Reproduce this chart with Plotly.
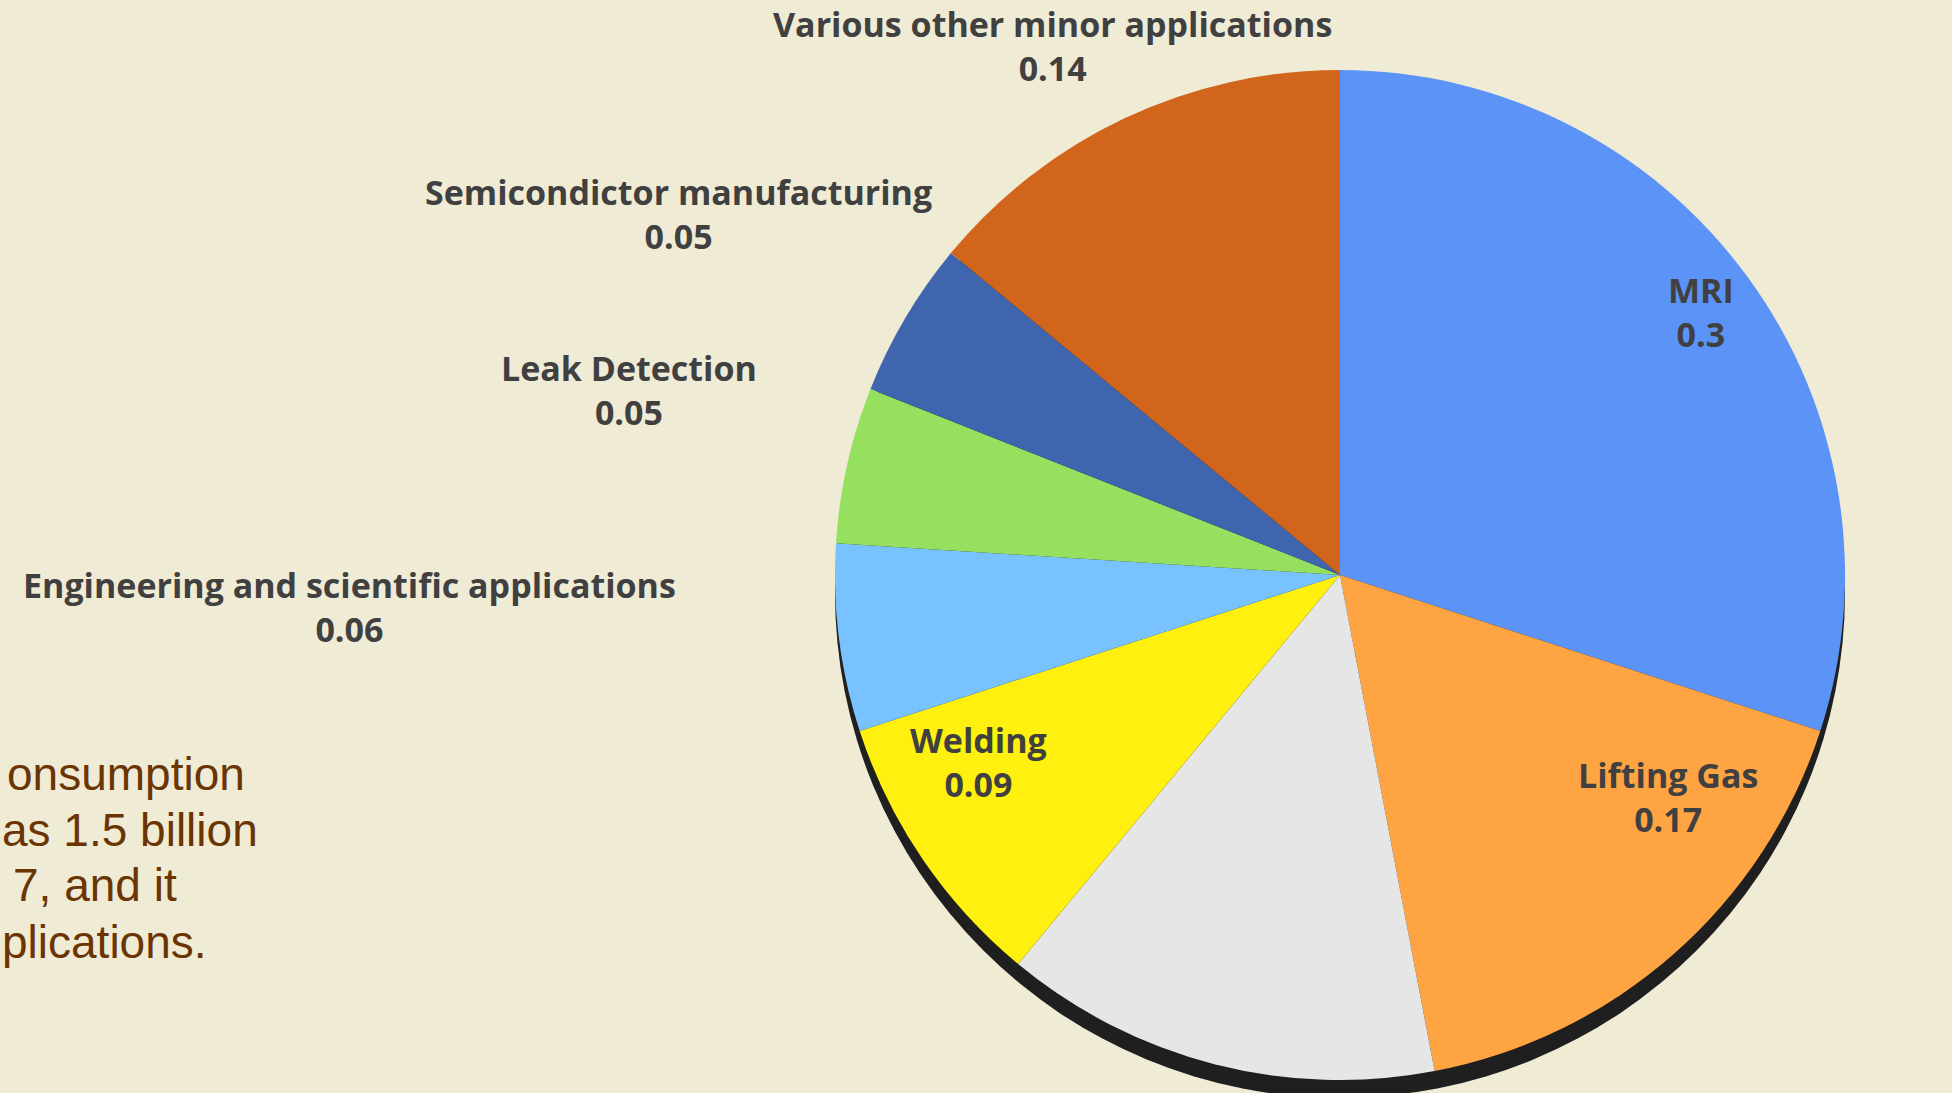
import plotly.graph_objects as go

# ---- data ----
categories = ["MRI", "Lifting Gas", "Cryogenics", "Welding",
              "Engineering and scientific applications", "Leak Detection",
              "Semicondictor manufacturing", "Various other minor applications"]
shares = [0.3, 0.17, 0.14, 0.09, 0.06, 0.05, 0.05, 0.14]
show_label = [True, True, False, True, True, True, True, True]
slice_colors = ["#5b93f7", "#ffa443", "#e6e6e6", "#fff00f",
                "#78c3ff", "#96e060", "#3e65ad", "#d2651c"]
# visible (cropped) part of the side note, as shown in the reference
note_lines = ["onsumption", "as 1.5 billion", "7, and it", "plications."]

BG = "#f0ebd5"
W, H = 1952, 1160          # page is 1093 tall; the pie runs off the bottom edge
cx, cy, r = 1340, 575, 505
shadow_drop = 18
LABEL_FONT = dict(family="Open Sans", size=34, color="#404040", weight="bold")

# label block centres (page pixels) for each slice
label_pos = [(1701, 312), (1668, 797), None, (978, 762),
             (349, 607), (629, 390), (678, 214), (1052, 46)]

def xdom(c, rad):
    return [max(0, (c - rad) / W), min(1, (c + rad) / W)]

def ydom(c, rad):
    return [max(0, 1 - (c + rad) / H), min(1, 1 - (c - rad) / H)]

fig = go.Figure()

# dark rim / shadow under the pie
fig.add_trace(go.Pie(
    values=[sum(shares)], labels=["rim"], sort=False,
    marker=dict(colors=["#1f1f1f"], line=dict(width=0)),
    textinfo="none", hoverinfo="skip", showlegend=False,
    domain=dict(x=xdom(cx, r), y=ydom(cy + shadow_drop, r)),
))

fig.add_trace(go.Pie(
    labels=categories, values=shares, sort=False,
    direction="clockwise", rotation=0,
    marker=dict(colors=slice_colors, line=dict(width=0)),
    textinfo="none",
    hoverinfo="label+value", showlegend=False,
    domain=dict(x=xdom(cx, r), y=ydom(cy, r)),
))

# slice labels
for name, val, show, pos in zip(categories, shares, show_label, label_pos):
    if not show or pos is None:
        continue
    px, py = pos
    fig.add_annotation(
        text=f"{name}<br>{val}",
        xref="paper", yref="paper", x=px / W, y=1 - py / H,
        xanchor="center", yanchor="middle", showarrow=False,
        font=LABEL_FONT,
    )

left_edges = [5, 0, 11, 0]
baselines = [788, 844, 899, 956]
for line, xl, yb in zip(note_lines, left_edges, baselines):
    fig.add_annotation(
        text=line, xref="paper", yref="paper",
        x=0, xshift=xl, y=1 - (yb + 14) / H,
        xanchor="left", yanchor="bottom", showarrow=False,
        font=dict(family="Liberation Sans", size=46, color="#6a3503"),
    )

fig.update_layout(
    width=W, height=H, autosize=False,
    paper_bgcolor=BG, plot_bgcolor=BG,
    margin=dict(l=0, r=0, t=0, b=0),
    showlegend=False,
)

fig.write_html(
    "out.html",
    config={"displayModeBar": False},
    post_script="document.body.style.margin='0';document.body.style.overflow='hidden';"
                "document.body.style.background='" + BG + "';",
)
